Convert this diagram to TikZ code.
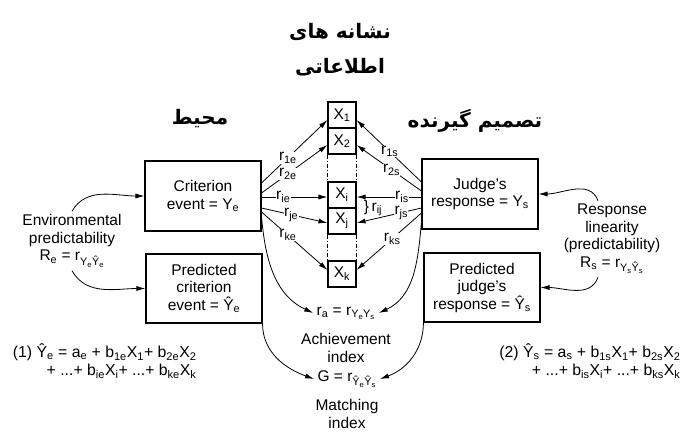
\documentclass[tikz,border=0pt]{standalone}
\usepackage{fontspec}
\setmainfont{Liberation Sans}
\newfontfamily\farsifont[Script=Arabic]{DejaVu Sans}
\TeXXeTstate=1
\usepackage{tikz}
\usetikzlibrary{positioning,arrows.meta}
\newcommand{\sbs}[1]{\textsubscript{#1}}
\newcommand{\fa}[1]{{\farsifont\bfseries\beginR #1\endR}}
\tikzset{
  flowarrow/.style={-{Latex[length=9pt,width=5pt]}, line width=0.8pt},
  eventbox/.style={draw, line width=1.1pt, minimum width=116pt, minimum height=70pt, align=center, inner sep=2pt},
  cuebox/.style={draw, line width=1.1pt, minimum width=28pt, minimum height=26pt, inner sep=0pt},
  cuelink/.style={line width=1pt, dash pattern=on 4pt off 2pt on 1pt off 2pt},
  rlabel/.style={fill=white, inner sep=0.3pt},
  note/.style={align=center},
  title/.style={font=\fontsize{20}{24}\selectfont},
  eqn/.style={anchor=east, align=right, font=\fontsize{15.8}{17.5}\selectfont}
}

\begin{document}
\begin{tikzpicture}[x=1pt, y=-1pt, every node/.style={font=\fontsize{15.5}{17.5}\selectfont}]
  \useasboundingbox (0,0) rectangle (681,434);
  \node[title] (cues1) at (340,32) {\fa{نشانه های}};
  \node[title] (cues2) at (340,67) {\fa{اطلاعاتی}};
  \node[title] (envt) at (200,119) {\fa{محیط}};
  \node[title] (judget) at (475,121) {\fa{تصمیم گیرنده}};

  \node[eventbox] (crit) at (203,196) {Criterion\\event = Y\sbs{e}};
  \node[eventbox, minimum height=69pt] (pcrit) at (204,288.5) {Predicted\\criterion\\event = Ŷ\sbs{e}};
  \node[eventbox] (judge) at (480,194) {Judge's\\response = Y\sbs{s}};
  \node[eventbox, minimum height=69pt] (pjudge) at (482,287.5) {Predicted\\judge's\\response = Ŷ\sbs{s}};

  \node[cuebox] (x1) at (342,115) {X\sbs{1}};
  \node[cuebox] (x2) at (342,141) {X\sbs{2}};
  \node[cuebox] (xi) at (342,195) {X\sbs{i}};
  \node[cuebox] (xj) at (342,221) {X\sbs{j}};
  \node[cuebox] (xk) at (342,274) {X\sbs{k}};
  \foreach \a/\b in {x2/xi, xj/xk}
    \foreach \s in {west, east}
      \draw[cuelink] (\a.south \s) -- (\b.north \s);
  \node (rij) at (373,208) {\}\,r\sbs{ij}};

  \node[note] (envpred) at (72,241) {Environmental\\predictability\\R\sbs{e} = r\sbs{Y\sbs{e}Ŷ\sbs{e}}};
  \node[note] (resplin) at (612,239) {Response\\linearity\\(predictability)\\R\sbs{s} = r\sbs{Y\sbs{s}Ŷ\sbs{s}}};

  \node (ra) at (346,313) {r\sbs{a} = r\sbs{Y\sbs{e}Y\sbs{s}}};
  \node[note] (achieve) at (346,348) {Achievement\\index};
  \node (g) at (347,379) {G = r\sbs{Ŷ\sbs{e}Ŷ\sbs{s}}};
  \node[note] (match) at (347,414) {Matching\\index};

  \node[eqn] (eq1) at (200,361) {(1) Ŷ\sbs{e} = a\sbs{e} + b\sbs{1e}X\sbs{1}+ b\sbs{2e}X\sbs{2}\\+ ...+ b\sbs{ie}X\sbs{i}+ ...+ b\sbs{ke}X\sbs{k}};
  \node[eqn] (eq2) at (684,361) {(2) Ŷ\sbs{s} = a\sbs{s} + b\sbs{1s}X\sbs{1}+ b\sbs{2s}X\sbs{2}\\+ ...+ b\sbs{is}X\sbs{i}+ ...+ b\sbs{ks}X\sbs{k}};

  \draw[flowarrow] ([yshift=13pt]crit.east) -- node[rlabel, pos=0.4] {r\sbs{1e}} ([yshift=-5pt]x1.west);
  \draw[flowarrow] ([yshift=3pt]crit.east) -- node[rlabel, pos=0.4] {r\sbs{2e}} ([yshift=-4pt]x2.west);
  \draw[flowarrow] ([yshift=-1pt]crit.east) -- node[rlabel, pos=0.33] {r\sbs{ie}} ([yshift=-2pt]xi.west);
  \draw[flowarrow] ([yshift=-12pt]crit.east) -- node[rlabel, pos=0.45] {r\sbs{je}} ([yshift=-2pt]xj.west);
  \draw[flowarrow] ([yshift=-16pt]crit.east) -- node[rlabel, pos=0.4] {r\sbs{ke}} ([yshift=4pt]xk.west);

  \draw[flowarrow] ([yshift=12pt]judge.west) -- node[rlabel, pos=0.49] {r\sbs{1s}} ([yshift=-5pt]x1.east);
  \draw[flowarrow] ([yshift=3pt]judge.west) -- node[rlabel, pos=0.46] {r\sbs{2s}} ([yshift=-4pt]x2.east);
  \draw[flowarrow] ([yshift=-3pt]judge.west) -- node[rlabel, pos=0.3] {r\sbs{is}} ([yshift=-2pt]xi.east);
  \draw[flowarrow] ([yshift=-14pt]judge.west) -- node[rlabel, pos=0.31] {r\sbs{js}} ([yshift=-2pt]xj.east);
  \draw[flowarrow] ([yshift=-19pt]judge.west) -- node[rlabel, pos=0.45] {r\sbs{ks}} ([yshift=4pt]xk.east);

  \draw[flowarrow] (envpred.north) to[out=60, in=180] (crit.west);
  \draw[flowarrow] (envpred.south) to[out=-60, in=180] (pcrit.west);
  \draw[flowarrow] ([xshift=-14pt]resplin.north) to[out=110, in=0] (judge.east);
  \draw[flowarrow] ([xshift=-14pt]resplin.south) to[out=-110, in=0] (pjudge.east);

  \draw[flowarrow] ([yshift=-21pt]crit.east) to[out=-85, in=155] (ra.west);
  \draw[flowarrow] ([yshift=-28pt]judge.west) to[out=-95, in=25] (ra.east);
  \draw[flowarrow] (pcrit.south east) to[out=-90, in=160] (g.west);
  \draw[flowarrow] (pjudge.south west) to[out=-90, in=20] (g.east);
\end{tikzpicture}
\end{document}
